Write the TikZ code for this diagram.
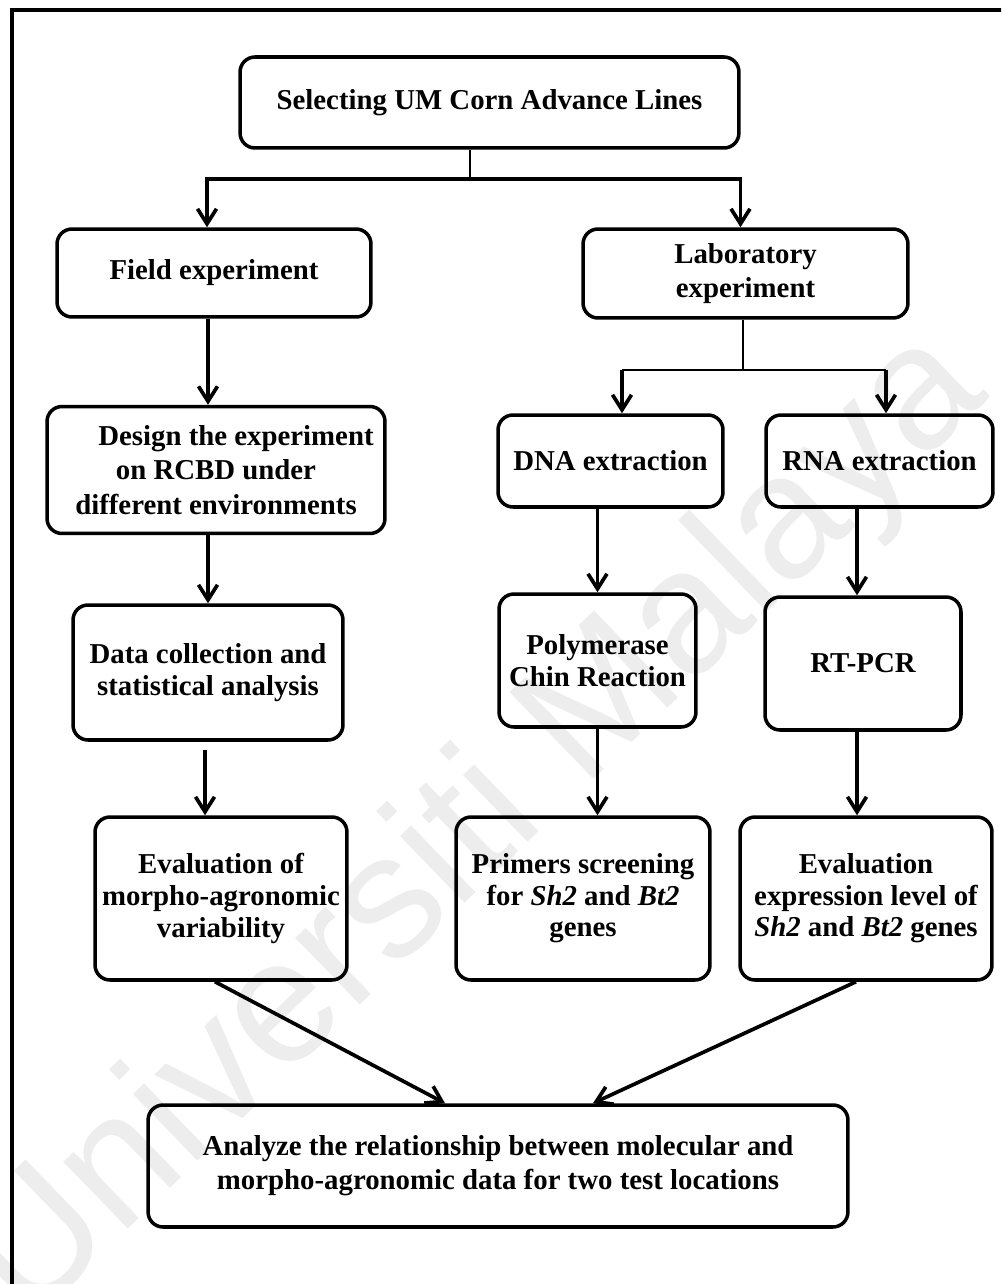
\documentclass[tikz,border=0pt]{standalone}
\usepackage{fontspec}
\setmainfont{Liberation Serif}
\setsansfont{Liberation Sans}
\usepackage{tikz}
\usetikzlibrary{arrows.meta}
\tikzset{procbox/.style={draw,line width=2pt,rounded corners=0.3cm,align=center,
    inner sep=2pt,font=\bfseries\fontsize{16.4}{18}\selectfont},
    widelines/.style={font=\bfseries\fontsize{16.4}{19.8}\selectfont},
    flowarrow/.style={draw,line width=2.1pt,-{Straight Barb[length=0.3cm,width=0.38cm]}},
    thinlink/.style={draw,line width=1.2pt},
    watermark/.style={text=black!7,font=\sffamily\fontsize{100}{100}\selectfont}}

\begin{document}
\begin{tikzpicture}[x=0.02cm,y=-0.02cm]
            \clip (0,0) rectangle (1001,1284);
            \node[watermark,rotate=44] (wm) at (478,828) {Universiti Malaya};
            \draw[line width=2.3pt] (12,1300) |- (1020,10);
            % top of the chart
            \node[procbox,minimum width=9.98cm,minimum height=1.82cm] (select) at (489.5,102.5)
                {Selecting UM Corn Advance Lines};
            \node[procbox,minimum width=6.28cm,minimum height=1.76cm] (field) at (214,273)
                {Field experiment};
            \node[procbox,widelines,minimum width=6.5cm,minimum height=1.78cm] (lab) at (745.5,273.5)
                {Laboratory\\ experiment};
            % field branch
            \node[procbox,widelines,minimum width=6.76cm,minimum height=2.54cm] (design) at (216,470)
                {\hspace*{0.8cm}Design the experiment\\ on RCBD under\\ different environments};
            \node[procbox,minimum width=5.4cm,minimum height=2.7cm] (data) at (208,672.5)
                {Data collection and\\ statistical analysis};
            \node[procbox,minimum width=5.04cm,minimum height=3.26cm] (evalmorpho) at (221,898.5)
                {Evaluation of\\ morpho-agronomic\\ variability};
            % laboratory branch
            \node[procbox,minimum width=4.5cm,minimum height=1.84cm] (dna) at (610.5,461)
                {DNA extraction};
            \node[procbox,minimum width=4.54cm,minimum height=1.84cm] (rna) at (879.5,461)
                {RNA extraction};
            \node[procbox,minimum width=3.94cm,minimum height=2.66cm] (pcr) at (597.5,660.5)
                {Polymerase\\ Chin Reaction};
            \node[procbox,minimum width=3.92cm,minimum height=2.66cm] (rtpcr) at (863,663.5)
                {RT-PCR};
            \node[procbox,minimum width=5.08cm,minimum height=3.26cm] (primers) at (583,898.5)
                {Primers screening\\ for \textit{Sh2} and \textit{Bt2}\\ genes};
            \node[procbox,minimum width=5.04cm,minimum height=3.26cm] (evalexpr) at (866,898.5)
                {Evaluation\\ expression level of\\ \textit{Sh2} and \textit{Bt2} genes};
            \node[procbox,font=\bfseries\fontsize{16.4}{19.5}\selectfont,minimum width=14cm,minimum height=2.44cm] (relation) at (498,1166)
                {Analyze the relationship between molecular and\\ morpho-agronomic data for two test locations};
            % split points
            \coordinate (split1) at (470,179);
            \coordinate (split2) at (743,370);
            \coordinate (dnain) at (622,370);
            \coordinate (rnain) at (886,370);
            % connectors
            \draw[thinlink] (select.south -| split1) -- (split1);
            \draw[flowarrow] (split1) -| ([xshift=-0.14cm]field.north);
            \draw[flowarrow] (split1) -| ([xshift=-0.1cm]lab.north);
            \draw[thinlink] (lab.south -| split2) -- (split2);
            \draw[thinlink] (dnain) -- (rnain);
            \draw[flowarrow] (dnain) -- (dnain |- dna.north);
            \draw[flowarrow] (rnain) -- (rnain |- rna.north);
            \draw[flowarrow] (field.south -| data.north) -- (data.north |- design.north);
            \draw[flowarrow] (data.north |- design.south) -- (data.north);
            \draw[flowarrow] ([xshift=-0.06cm,yshift=-0.16cm]data.south) -- ([xshift=-0.06cm]data.south |- evalmorpho.north);
            \draw[flowarrow] (pcr.north |- dna.south) -- (pcr.north);
            \draw[flowarrow] (pcr.south) -- (pcr.south |- primers.north);
            \draw[flowarrow] ([xshift=-0.12cm]rtpcr.north |- rna.south) -- ([xshift=-0.12cm]rtpcr.north);
            \draw[flowarrow] ([xshift=-0.12cm]rtpcr.south) -- ([xshift=-0.12cm]rtpcr.south |- evalexpr.north);
            \draw[flowarrow] ([xshift=-0.12cm]evalmorpho.south) -- ([xshift=-1.06cm]relation.north);
            \draw[flowarrow] ([xshift=-0.2cm]evalexpr.south) -- ([xshift=1.9cm]relation.north);
        \end{tikzpicture}
\end{document}
